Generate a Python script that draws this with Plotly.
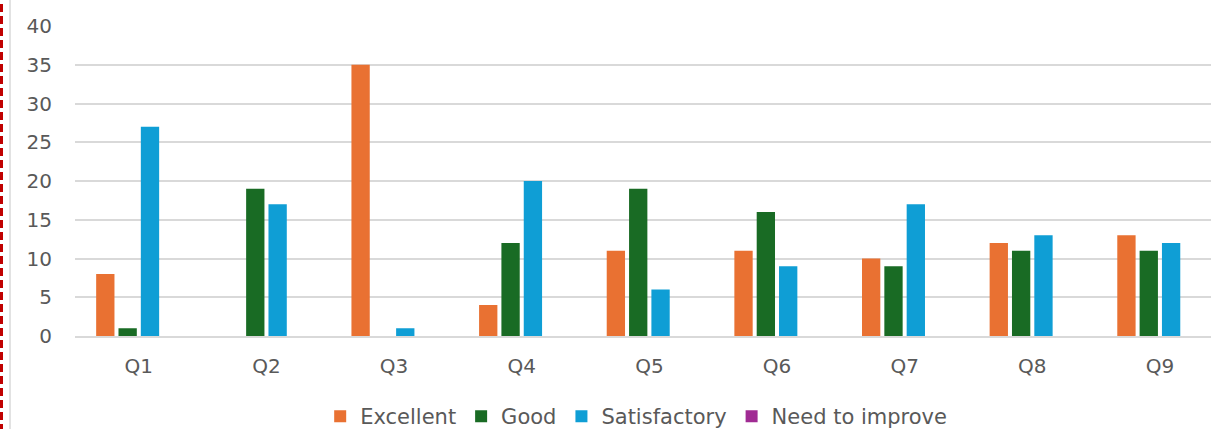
import plotly.graph_objects as go

# survey responses per question
questions = ["Q1", "Q2", "Q3", "Q4", "Q5", "Q6", "Q7", "Q8", "Q9"]
excellent = [8, 0, 35, 4, 11, 11, 10, 12, 13]
good = [1, 19, 0, 12, 19, 16, 9, 11, 11]
satisfactory = [27, 17, 1, 20, 6, 9, 17, 13, 12]
need_to_improve = [0, 0, 0, 0, 0, 0, 0, 0, 0]

series = [
    ("Excellent", excellent, "#E97132"),
    ("Good", good, "#196B24"),
    ("Satisfactory", satisfactory, "#0F9ED5"),
    ("Need to improve", need_to_improve, "#A02B93"),
]

fig = go.Figure()
for name, vals, col in series:
    fig.add_trace(go.Bar(x=questions, y=vals, name=name, marker_color=col,
                         marker_line_width=0))

font_family = "DejaVu Sans, Arial, sans-serif"
left = 75
plot_w = 1211 - left

fig.update_layout(
    width=1211, height=429,
    margin=dict(l=left, r=0, t=26, b=93, autoexpand=False),
    paper_bgcolor="white", plot_bgcolor="white",
    barmode="group", bargap=0.3, bargroupgap=0.18,
    font=dict(family=font_family, size=20, color="#595959"),
    showlegend=True,
    legend=dict(orientation="h", x=0.494, xanchor="center", y=-0.26, yanchor="middle",
                font=dict(size=21, color="#595959"), itemwidth=30,
                traceorder="normal"),
    shapes=[
        dict(type="line", xref="paper", yref="paper", x0=-(left - 1.5) / plot_w,
             x1=-(left - 1.5) / plot_w, y0=-0.31, y1=1.09,
             line=dict(color="#C00000", width=3, dash="8px,4px")),
        dict(type="line", xref="paper", yref="paper", x0=-(left - 10) / plot_w,
             x1=-(left - 10) / plot_w, y0=-0.31, y1=1.09,
             line=dict(color="#D9D9D9", width=1.5)),
    ],
)
# the original plot area runs a little past the right edge of the window
fig.update_xaxes(range=[-0.5, 8.4], showgrid=False, showline=True, linecolor="#D9D9D9",
                 linewidth=1.5, ticks="", ticklabelstandoff=11, automargin=False,
                 tickfont=dict(size=20, color="#595959"))
fig.update_yaxes(range=[0, 40], dtick=5, showgrid=True, gridcolor="#D9D9D9", gridwidth=1.5,
                 zeroline=False, showline=False, ticks="", ticklabelstandoff=22,
                 automargin=False, tickfont=dict(size=20, color="#595959"))

# drop the default page margin / scrollbars so the figure sits flush in the window
fig.write_html(
    "out.html",
    config={"displayModeBar": False},
    post_script="document.body.style.margin='0';"
                "document.body.style.overflow='hidden';"
                "document.documentElement.style.overflow='hidden';",
)
